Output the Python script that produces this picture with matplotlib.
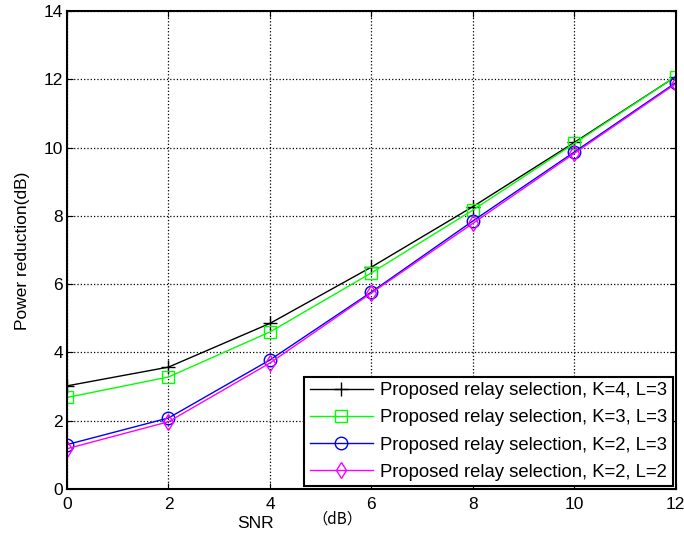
import matplotlib.pyplot as plt
import numpy as np

#-------------------------------
#         data
#-------------------------------
snr = [0, 2, 4, 6, 8, 10, 12]
k4_l3 = [3.02, 3.57, 4.85, 6.50, 8.27, 10.15, 12.08]
k3_l3 = [2.68, 3.28, 4.60, 6.33, 8.17, 10.12, 12.08]
k2_l3 = [1.30, 2.08, 3.78, 5.77, 7.85, 9.87, 11.90]
k2_l2 = [1.18, 1.97, 3.69, 5.74, 7.78, 9.83, 11.87]
labels = ['Proposed relay selection, K=4, L=3',
          'Proposed relay selection, K=3, L=3',
          'Proposed relay selection, K=2, L=3',
          'Proposed relay selection, K=2, L=2']

plt.rcParams['font.family'] = ['Liberation Sans', 'DejaVu Sans']

#-------------------------------
#         prepare and draw plot
#-------------------------------
fig = plt.figure(figsize=(6.84, 5.39), dpi=100)
ax1 = fig.add_axes([0.098, 0.0928, 0.890, 0.8868])

ax1.plot(snr, k4_l3, 'k-', marker='+', ms=10, mew=1, lw=1, label=labels[0])
ax1.plot(snr, k3_l3, '-', color='#00ff00', marker='s', ms=9, mfc='none', mew=1, lw=1, label=labels[1])
ax1.plot(snr, k2_l3, '-', color='#0000ff', marker='o', ms=9, mfc='none', mew=1, lw=1, label=labels[2])
ax1.plot(snr, k2_l2, '-', color='#ff00ff', marker='d', ms=8, mfc='none', mew=1, lw=1, label=labels[3])

ax1.set_xlim(0, 12)
ax1.set_ylim(0, 14)
ax1.set_xticks(np.arange(0, 13, 2))
ax1.set_yticks(np.arange(0, 15, 2))
ax1.tick_params(direction='in', top=True, right=True, labelsize=12.5, length=4)
ax1.tick_params(axis='x', pad=6)
ax1.tick_params(axis='y', pad=3)
ax1.grid(True, color='k', linestyle=':', lw=0.9)
for s in ax1.spines.values():
    s.set_linewidth(1.5)

fig.text(23/684, 1 - 251/539, 'Power reduction(dB)', fontsize=12.5, rotation=90,
         ha='center', va='center')
fig.text(256/684, 1 - 524/539, 'SNR', fontsize=12.5, ha='center', va='center')
fig.text(337/684, 1 - 519/539, '（dB）', fontsize=11, ha='center', va='center',
         family=['Noto Sans CJK SC', 'DejaVu Sans'])

leg = ax1.legend(loc='lower right', fontsize=13.3, fancybox=False, framealpha=1,
                 edgecolor='k', borderpad=0.3, labelspacing=0.55, handlelength=3.4,
                 handletextpad=0.4, borderaxespad=0.15)
leg.get_frame().set_linewidth(1.5)

fig.savefig('out.png', dpi=100)
